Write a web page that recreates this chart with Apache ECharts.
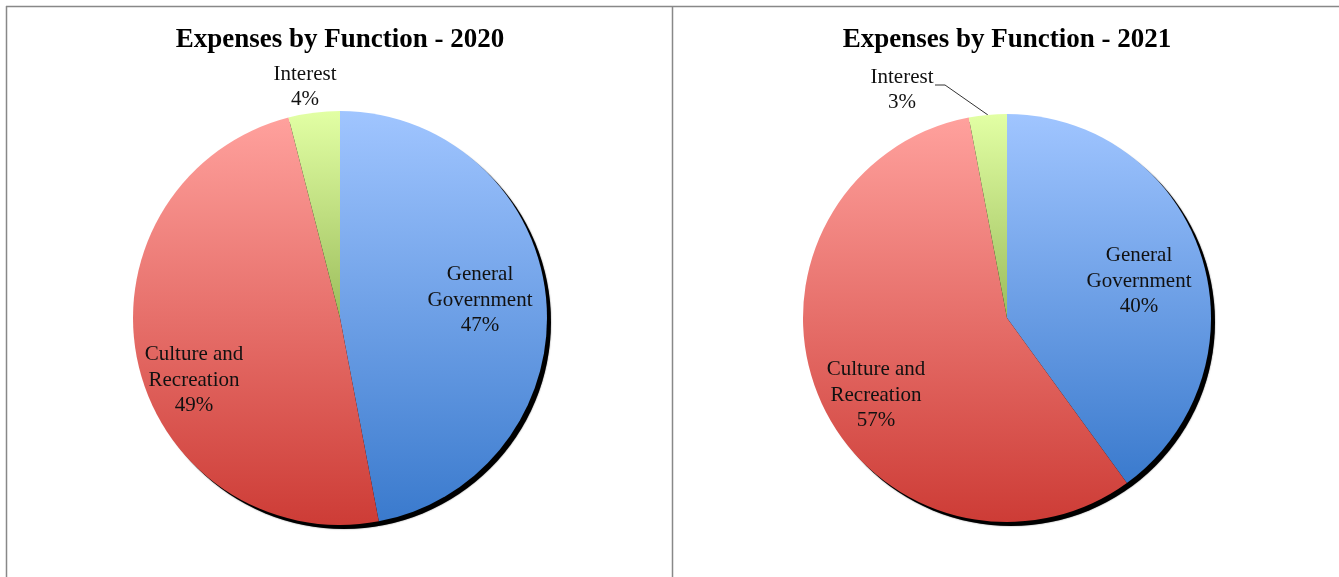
<!DOCTYPE html>
<html><head><meta charset="utf-8">
<script src="https://cdn.jsdelivr.net/npm/echarts@6/dist/echarts.min.js"></script>
<style>html,body{margin:0;padding:0;background:#fff}#c{width:1339px;height:577px}</style>
</head><body><div id="c"></div>
<script>
// ---- data ----
const categories = ['General Government', 'Culture and Recreation', 'Interest'];
const labelNames = ['General\nGovernment', 'Culture and\nRecreation', 'Interest'];
const values2020 = [47, 49, 4];
const values2021 = [40, 57, 3];
const titles = ['Expenses by Function - 2020', 'Expenses by Function - 2021'];

// ---- styling / layout ----
const FONT = '"Liberation Serif", "Times New Roman", serif';
const gradStops = [
  ['#a0c5ff', '#3a7acd'],
  ['#ffa19d', '#cd3c36'],
  ['#e2ffa4', '#9cbd5c']
];
const pies = [
  { cx: 340, cy: 318, r: 207, values: values2020, title: titles[0],
    labelPos: [[140, -18], [-146, 62], [-35, -231]] },
  { cx: 1007, cy: 318, r: 204, values: values2021, title: titles[1],
    labelPos: [[132, -37], [-131, 77], [-105, -228]] }
];

function grad(i) {
  return new echarts.graphic.LinearGradient(0, 0, 0, 1, [
    { offset: 0, color: gradStops[i][0] },
    { offset: 1, color: gradStops[i][1] }
  ]);
}

const series = [];
pies.forEach((p, pi) => {
  const total = p.values.reduce((a, b) => a + b, 0);
  // shadow underlay
  series.push({
    type: 'pie', silent: true, center: [p.cx + 4, p.cy + 4], radius: p.r,
    startAngle: 90, animation: false, z: 1,
    label: { show: false }, labelLine: { show: false },
    itemStyle: { color: '#000', shadowBlur: 1.5, shadowColor: 'rgba(0,0,0,0.6)' },
    data: [{ value: total, name: 'shadow' + pi }]
  });
  series.push({
    type: 'pie', center: [p.cx, p.cy], radius: p.r, startAngle: 90, clockwise: true,
    animation: false, avoidLabelOverlap: false, z: 2,
    itemStyle: { borderWidth: 0 },
    label: {
      show: true, position: 'inside', color: '#111', fontFamily: FONT, fontSize: 21,
      lineHeight: 25.5, align: 'center',
      formatter: (q) => labelNames[q.dataIndex] + '\n' + Math.round(q.percent) + '%'
    },
    labelLine: { show: false },
    labelLayout: (params) => {
      const off = p.labelPos[params.dataIndex];
      const res = { x: p.cx + off[0], y: p.cy + off[1], align: 'center', verticalAlign: 'middle' };
      if (pi === 1 && params.dataIndex === 2 && params.labelLinePoints) {
        const p0 = params.labelLinePoints[0];
        const lx = p.cx + off[0] + 33, ly = p.cy + off[1] - 5;
        res.labelLinePoints = [p0, [lx + 10, ly], [lx, ly]];
      }
      return res;
    },
    data: categories.map((c, i) => {
      const d = { name: c, value: p.values[i], itemStyle: { color: grad(i) } };
      if (pi === 1 && i === 2) {
        d.label = { position: 'outside' };
        d.labelLine = { show: true, length: 10, length2: 10, lineStyle: { color: '#333', width: 1 } };
      }
      return d;
    })
  });
});

const chart = echarts.init(document.getElementById('c'), null, { renderer: 'canvas' });
chart.setOption({
  backgroundColor: '#fff',
  animation: false,
  title: pies.map(p => ({
    text: p.title, left: p.cx, top: 27, textAlign: 'center', padding: 0,
    textStyle: { fontFamily: FONT, fontSize: 27, fontWeight: 'bold', color: '#000' }
  })),
  graphic: [
    { type: 'line', shape: { x1: 6, y1: 6.5, x2: 1339, y2: 6.5 }, style: { stroke: '#888', lineWidth: 1.5 }, silent: true },
    { type: 'line', shape: { x1: 6.5, y1: 6, x2: 6.5, y2: 577 }, style: { stroke: '#888', lineWidth: 1.5 }, silent: true },
    { type: 'line', shape: { x1: 672.5, y1: 6, x2: 672.5, y2: 577 }, style: { stroke: '#888', lineWidth: 1.5 }, silent: true }
  ],
  series: series
});
</script></body></html>
